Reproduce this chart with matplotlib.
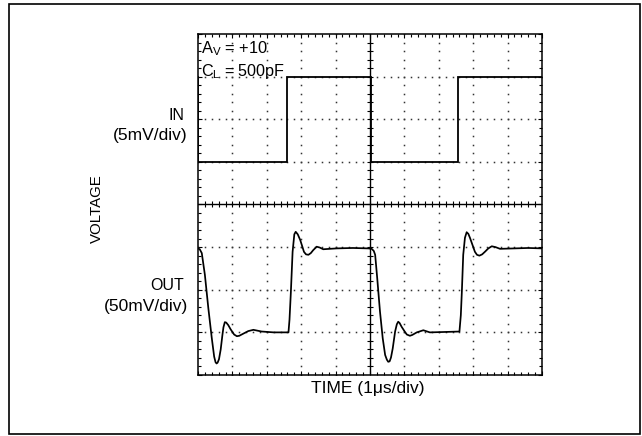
import numpy as np
import matplotlib
matplotlib.use("Agg")
import matplotlib.pyplot as plt
from matplotlib.patches import Rectangle

# Input square wave (divisions): time, level
in_t = [0.00, 0.00, 2.59, 2.59, 5.03, 5.03, 7.56, 7.56, 10.00]
in_v = [7.00, 5.00, 5.00, 7.00, 7.00, 5.00, 5.00, 7.00, 7.00]

# Output response (divisions): time, level
out_t = [0.00, 0.05, 0.11, 0.20, 0.30, 0.40, 0.47, 0.51, 0.54, 0.57, 0.61,
         0.66, 0.71, 0.74, 0.78, 0.82, 0.88, 0.95, 1.05, 1.13, 1.20, 1.27,
         1.46, 1.61, 1.85, 2.20, 2.63, 2.66, 2.70, 2.75, 2.80, 2.84, 2.90,
         2.97, 3.03, 3.08, 3.14, 3.21, 3.28, 3.35, 3.45, 3.54, 3.64, 4.03,
         4.50, 4.95, 5.05, 5.11, 5.15, 5.21, 5.29, 5.37, 5.44, 5.49, 5.53,
         5.57, 5.61, 5.66, 5.73, 5.78, 5.82, 5.86, 5.92, 6.00, 6.07, 6.16,
         6.23, 6.36, 6.55, 6.74, 7.20, 7.60, 7.64, 7.67, 7.71, 7.76, 7.81,
         7.86, 7.91, 7.98, 8.05, 8.11, 8.18, 8.26, 8.34, 8.44, 8.54, 8.65,
         8.78, 9.20, 9.60, 10.00]
out_v = [2.97, 2.95, 2.86, 2.35, 1.57, 0.87, 0.43, 0.30, 0.27, 0.29, 0.37,
         0.60, 0.94, 1.12, 1.24, 1.23, 1.17, 1.07, 0.95, 0.91, 0.92, 0.95,
         1.03, 1.06, 1.02, 1.00, 1.00, 1.30, 1.95, 2.89, 3.30, 3.36, 3.30,
         3.17, 3.02, 2.89, 2.83, 2.82, 2.86, 2.93, 3.01, 2.99, 2.95, 2.97,
         2.98, 2.97, 2.96, 2.91, 2.82, 2.27, 1.49, 0.86, 0.47, 0.36, 0.31,
         0.32, 0.41, 0.62, 1.02, 1.19, 1.25, 1.22, 1.13, 1.03, 0.95, 0.92,
         0.94, 1.00, 1.05, 1.00, 1.01, 1.02, 1.40, 1.95, 2.82, 3.22, 3.35,
         3.31, 3.21, 3.05, 2.89, 2.82, 2.80, 2.83, 2.89, 2.97, 3.02, 3.00,
         2.96, 2.97, 2.98, 2.97]

W, H = 642, 436
fig = plt.figure(figsize=(W / 100, H / 100), dpi=100)
fig.patch.set_facecolor("white")

FONT = "Liberation Sans"
plt.rcParams["font.family"] = [FONT, "DejaVu Sans"]
plt.rcParams["mathtext.fontset"] = "custom"
plt.rcParams["mathtext.rm"] = FONT
plt.rcParams["mathtext.it"] = FONT

# outer frame
fig.patches.append(Rectangle((9 / W, 1 - 434 / H), 631 / W, 430 / H,
                             transform=fig.transFigure, fill=False,
                             edgecolor="black", linewidth=1.2))

ax = fig.add_axes([198 / W, 1 - 375 / H, 344 / W, 341 / H])
ax.set_xlim(0, 10)
ax.set_ylim(0, 8)
for s in ax.spines.values():
    s.set_linewidth(1.1)
ax.set_xticks(np.arange(0, 10.01, 1))
ax.set_yticks(np.arange(0, 8.01, 1))
ax.set_xticks(np.arange(0, 10.01, 0.2), minor=True)
ax.set_yticks(np.arange(0, 8.01, 0.2), minor=True)
ax.tick_params(which="both", direction="in", top=True, right=True,
               labelbottom=False, labelleft=False, width=0.8, color="black")
ax.tick_params(which="major", length=3)
ax.tick_params(which="minor", length=2)

# dotted graticule
dot_kw = dict(ls="none", marker="s", ms=1.1, mec="none", mfc="#333333")
for gx in range(1, 10):
    if gx == 5:
        continue
    yy = np.arange(0, 8.01, 0.2)
    ax.plot(np.full_like(yy, gx), yy, **dot_kw)
for gy in range(1, 8):
    if gy == 4:
        continue
    xx = np.arange(0, 10.01, 0.2)
    ax.plot(xx, np.full_like(xx, gy), **dot_kw)

# center cross with ticks
ax.axhline(4, color="black", lw=1.0)
ax.axvline(5, color="black", lw=1.0)
xx = np.arange(0.2, 10, 0.2)
ax.plot(xx, np.full_like(xx, 4), ls="none", marker="|", ms=4, mew=0.8, color="black")
yy = np.arange(0.2, 8, 0.2)
ax.plot(np.full_like(yy, 5), yy, ls="none", marker="_", ms=5, mew=0.8, color="black")

# traces
ax.plot(in_t, in_v, color="black", lw=1.3, solid_joinstyle="miter")
ax.plot(out_t, out_v, color="black", lw=1.25, solid_joinstyle="round")


def ftext(x, y, s, fs, **kw):
    fig.text(x / W, 1 - y / H, s, fontsize=fs, **kw)


ftext(201, 53, r"A$_\mathregular{V}$ = +10", 11.8, ha="left", va="baseline")
ftext(201, 76, r"C$_\mathregular{L}$ = 500pF", 11.6, ha="left", va="baseline")
ftext(184, 120, "IN", 11.5, ha="right", va="baseline")
ftext(188, 140, "(5mV/div)", 12.5, ha="right", va="baseline")
ftext(184, 290, "OUT", 11.5, ha="right", va="baseline")
ftext(188, 311, "(50mV/div)", 12.5, ha="right", va="baseline")
ftext(97, 209, "VOLTAGE", 10.8, rotation=90, ha="center", va="center")
ftext(368, 393, "TIME (1\u03bcs/div)", 12.5, ha="center", va="baseline")

fig.savefig("out.png", dpi=100, facecolor="white")
